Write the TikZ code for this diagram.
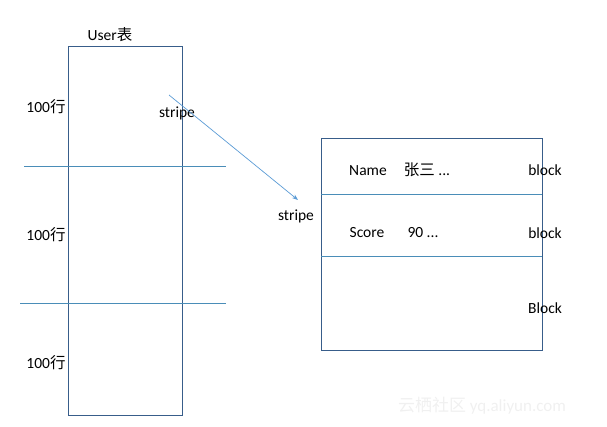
\documentclass[tikz,border=0pt]{standalone}
\usepackage{fontspec}
\setmainfont{Carlito}
\newfontfamily\cjk{Noto Sans CJK SC}
\usetikzlibrary{arrows.meta}
\definecolor{boxc}{HTML}{385D8A}
\definecolor{linec}{HTML}{4A8DB8}
\definecolor{arrc}{HTML}{5B9BD5}
\begin{document}
\begin{tikzpicture}[x=1pt,y=-1pt,
  lbl/.style={inner sep=0pt,font=\fontsize{15.5}{17}\selectfont},
  boxs/.style={draw=boxc,line width=1pt},
  sep/.style={draw=linec,line width=1pt},
  arr/.style={draw=arrc,line width=0.7pt,-{Stealth[length=6pt,width=4.5pt]}}]
\useasboundingbox (0,0) rectangle (607,427);
% left table
\node[boxs,minimum width=114pt,minimum height=369pt,inner sep=0pt,anchor=north west] (tbl) at (68,46) {};
\coordinate (l1a) at (24,167); \coordinate (l1b) at (226,167);
\coordinate (l2a) at (20,303); \coordinate (l2b) at (226,303);
\draw[sep] (l1a) -- (l1b);
\draw[sep] (l2a) -- (l2b);
\node[lbl] (title) at (110,35) {User{\cjk 表}};
\node[lbl] (r1) at (46,107) {100{\cjk 行}};
\node[lbl] (r2) at (46,235) {100{\cjk 行}};
\node[lbl] (r3) at (46,363) {100{\cjk 行}};
\node[lbl] (s1) at (177,113) {stripe};
% right stripe
\node[boxs,minimum width=221pt,minimum height=212pt,inner sep=0pt,anchor=north west] (stripe) at (321,138) {};
\coordinate (m1a) at (321,195); \coordinate (m1b) at (542,195);
\coordinate (m2a) at (321,257); \coordinate (m2b) at (542,257);
\draw[sep] (m1a) -- (m1b);
\draw[sep] (m2a) -- (m2b);
\node[lbl] (s2) at (296,216) {stripe};
\node[lbl] (name) at (368,171) {Name};
\node[lbl] (zs) at (427,170) {{\cjk 张三} ...};
\node[lbl] (b1) at (545,170) {block};
\node[lbl] (score) at (367,233) {Score};
\node[lbl] (ninety) at (423,233) {90 ...};
\node[lbl] (b2) at (545,233) {block};
\node[lbl] (b3) at (545,308) {Block};
% arrow
\coordinate (as) at (169,95);
\coordinate (ae) at (298,200);
\draw[arr] (as) -- (ae);
% watermark
\node[lbl,text=black!6,font=\fontsize{17}{19}\selectfont] (wm) at (482,406) {{\cjk 云栖社区} yq.aliyun.com};
\end{tikzpicture}
\end{document}
